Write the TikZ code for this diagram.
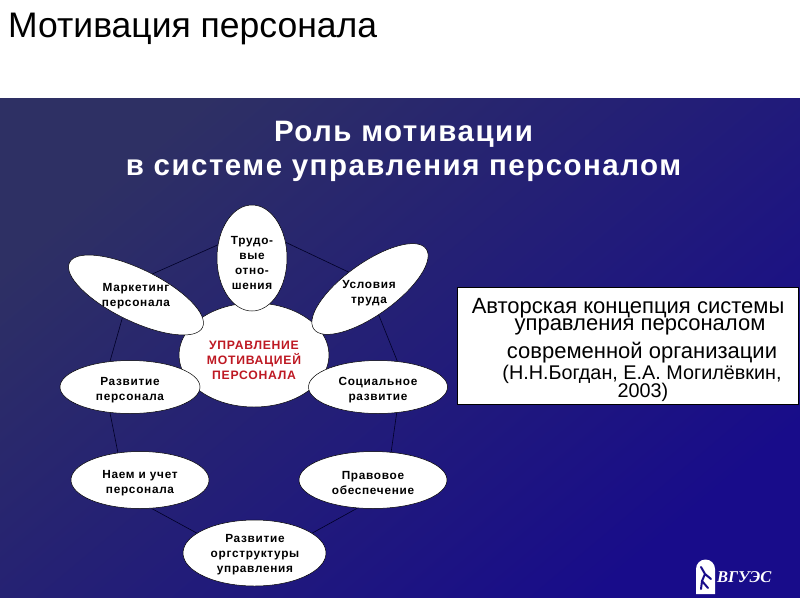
\documentclass[tikz,border=0pt]{standalone}
\usepackage{fontspec}
\setmainfont{Liberation Sans}
\newfontfamily\lblfont[LetterSpace=6]{Liberation Sans}
\newfontfamily\headfont[LetterSpace=5]{Liberation Sans}
\newfontfamily\logofont{Liberation Serif}
\usetikzlibrary{
    shapes.geometric,
    backgrounds
}
\definecolor{paneltop}{RGB}{46,48,100}
\definecolor{panelbottom}{RGB}{24,12,138}
\definecolor{mainred}{RGB}{190,25,35}
\tikzset{
    petal/.style={ellipse, draw=black, line width=0.5pt, fill=white, inner sep=0pt},
    lbl/.style={align=center, font=\lblfont\bfseries\fontsize{11.8}{15}\selectfont, text=black},
    boxline/.style={inner sep=0pt, font=\fontsize{22}{24}\selectfont, text=black},
    boxsmall/.style={inner sep=0pt, font=\fontsize{19.8}{22}\selectfont, text=black},
    link/.style={draw=black!85!blue, line width=0.6pt}
}
\begin{document}
\begin{tikzpicture}[x=1pt,y=-1pt]
    \useasboundingbox (0,0) rectangle (800,600);
    \node[anchor=west, inner sep=0pt, font=\fontsize{35.5}{38}\selectfont] (title) at (8,29) {Мотивация персонала};
    \node[font=\headfont\bfseries\fontsize{29.5}{34}\selectfont, text=white, align=center] (head) at (403.5,151) {Роль мотивации\\в системе управления персоналом};
    % ellipses, the ones on top come later
    \node[petal, minimum width=150pt, minimum height=104pt] (centre) at (254,355) {};
    \node[petal, minimum width=70pt, minimum height=106pt] (trud) at (252,258) {};
    \node[petal, minimum width=148pt, minimum height=52pt, rotate=-26] (market) at (136,295) {};
    \node[petal, minimum width=138pt, minimum height=52pt, rotate=35.6] (usl) at (370,289) {};
    \node[petal, minimum width=140pt, minimum height=53pt] (razv) at (130,387) {};
    \node[petal, minimum width=139pt, minimum height=53pt] (social) at (378,387) {};
    \node[petal, minimum width=138pt, minimum height=57pt] (naem) at (140,480) {};
    \node[petal, minimum width=148pt, minimum height=57pt] (prav) at (373,480) {};
    \node[petal, minimum width=143pt, minimum height=66pt] (org) at (254.5,553) {};
    % labels
    \node[lbl, text=mainred, font=\lblfont\bfseries\fontsize{12.2}{15}\selectfont] (centrelbl) at (254,360) {УПРАВЛЕНИЕ\\МОТИВАЦИЕЙ\\ПЕРСОНАЛА};
    \node[lbl] (trudlbl) at (252,262.5) {Трудо-\\вые\\отно-\\шения};
    \node[lbl] (marketlbl) at (136,296.5) {Маркетинг\\персонала};
    \node[lbl] (usllbl) at (369,293) {Условия\\труда};
    \node[lbl] (razvlbl) at (130,390) {Развитие\\персонала};
    \node[lbl] (sociallbl) at (378,390) {Социальное\\развитие};
    \node[lbl] (naemlbl) at (140,483) {Наем и учет\\персонала};
    \node[lbl] (pravlbl) at (373,483) {Правовое\\обеспечение};
    \node[lbl] (orglbl) at (255,555) {Развитие\\оргструктуры\\управления};
    % text box
    \node[draw=black, line width=0.5pt, fill=white, minimum width=341pt, minimum height=117pt, inner sep=0pt] (box) at (628,345.5) {};
    \node[boxline] (line1) at (628,308) {Авторская концепция системы};
    \node[boxline] (line2) at (640,327) {управления персоналом};
    \node[boxline] (line3) at (642,353) {современной организации};
    \node[boxsmall] (line4) at (642,374) {(Н.Н.Богдан, Е.А. Могилёвкин,};
    \node[boxsmall] (line5) at (643,392) {2003)};
    % logo
    \node[font=\logofont\bfseries\itshape\fontsize{16.5}{16.5}\selectfont, text=white, anchor=west, inner sep=0pt] (logotext) at (717,577) {ВГУЭС};
    \fill[white] (696,594) -- (696,569) arc[start angle=180, end angle=360, x radius=9.5pt, y radius=-9.5pt] -- (715,594) -- cycle;
    \draw[panelbottom, line width=2pt, line cap=round] (701,567) -- (705,574) -- (702,581) -- (708,588) (705,574) -- (711,579) (702,581) -- (701,589);
    \begin{scope}[on background layer]
        \shade[left color=paneltop, right color=panelbottom, shading angle=40] (0,98) rectangle (800,597);
        \draw[link]
        (trud.159) -- (market.78) (trud.25) -- (usl.106)
        (market.265) -- (razv.128) (usl.253) -- (social.53)
        (razv.232) -- (naem.129) (social.306) -- (prav.57)
        (naem.292) -- (org.161) (prav.241) -- (org.19);
    \end{scope}
\end{tikzpicture}
\end{document}
